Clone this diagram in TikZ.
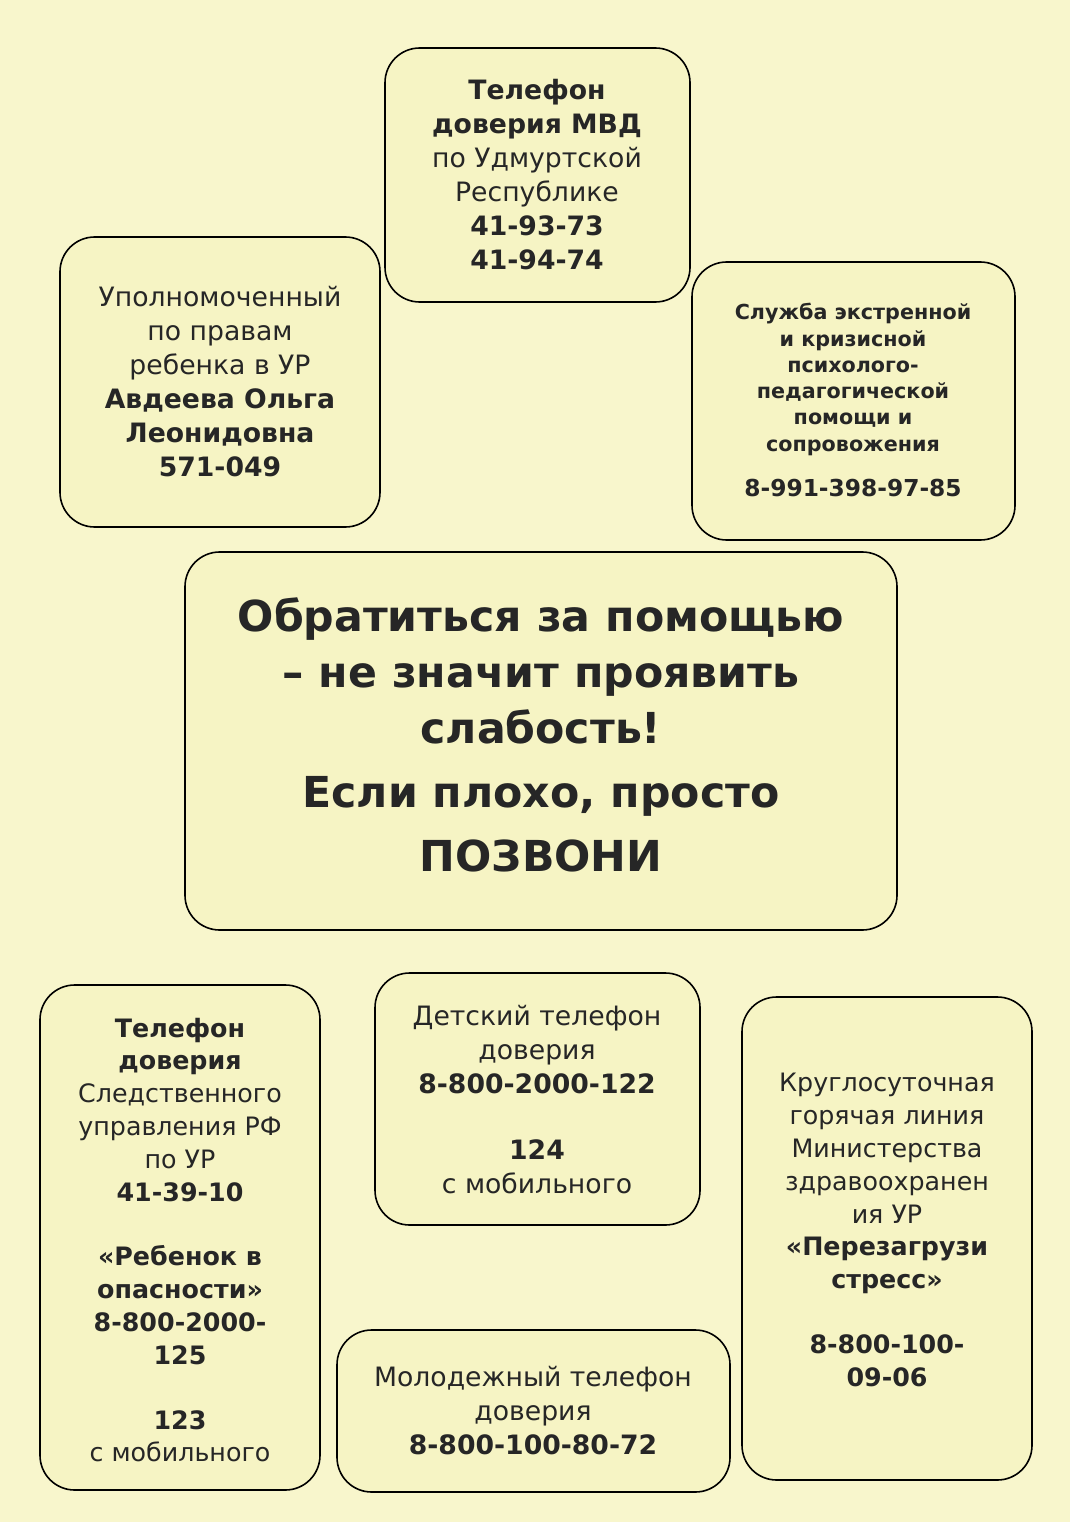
\documentclass[tikz,border=0pt]{standalone}
\usepackage{fontspec}
\setmainfont{DejaVu Sans}
\begin{document}
\begin{tikzpicture}[x=0.75pt,y=-0.75pt,
  box/.style={draw=black,line width=1.2pt,rounded corners=26pt,fill=boxy},
  txt/.style={align=center,font=\fontsize{20}{25.5}\selectfont,inner sep=0pt,text=black!85}]
\definecolor{boxy}{HTML}{F6F4C4}
\definecolor{pagey}{HTML}{F8F6CC}
\useasboundingbox (0,0) rectangle (1080,1530);
\fill[pagey] (0,0) rectangle (1070,1522);
\draw[box] (385,48) rectangle (690,302);
\node[txt] (mvd) at (537,175) {\textbf{Телефон}\\\textbf{доверия МВД}\\по Удмуртской\\Республике\\\textbf{41-93-73}\\\textbf{41-94-74}};
\draw[box] (60,237) rectangle (380,527);
\node[txt] (omb) at (220,382) {Уполномоченный\\по правам\\ребенка в УР\\\textbf{Авдеева Ольга}\\\textbf{Леонидовна}\\\textbf{571-049}};
\draw[box] (692,262) rectangle (1015,540);
\node[txt,font=\bfseries\fontsize{15.5}{19.7}\selectfont] (sl) at (853,400) {Служба экстренной\\и кризисной\\психолого-\\педагогической\\помощи и\\сопровожения\\[14pt]\fontsize{17.5}{20}\selectfont 8-991-398-97-85};
\draw[box] (185,552) rectangle (897,930);
\node[txt,font=\bfseries\fontsize{32}{42}\selectfont] (c) at (541,735) {Обратиться за помощью\\– не значит проявить\\слабость!\\[6pt]Если плохо, просто\\[6pt]ПОЗВОНИ};
\draw[box] (40,985) rectangle (320,1490);
\node[txt,font=\fontsize{19}{24.6}\selectfont] (sk) at (180,1240) {\textbf{Телефон}\\\textbf{доверия}\\Следственного\\управления РФ\\по УР\\\textbf{41-39-10}\\[24pt]\textbf{«Ребенок в}\\\textbf{опасности»}\\\textbf{8-800-2000-}\\\textbf{125}\\[24pt]\textbf{123}\\с мобильного};
\draw[box] (375,973) rectangle (700,1225);
\node[txt] (det) at (537,1100) {Детский телефон\\доверия\\\textbf{8-800-2000-122}\\[24pt]\textbf{124}\\с мобильного};
\draw[box] (742,997) rectangle (1032,1480);
\node[txt,font=\fontsize{19}{24.6}\selectfont] (kr) at (887,1230) {Круглосуточная\\горячая линия\\Министерства\\здравоохранен\\ия УР\\\textbf{«Перезагрузи}\\\textbf{стресс»}\\[24pt]\textbf{8-800-100-}\\\textbf{09-06}};
\draw[box] (337,1330) rectangle (730,1492);
\node[txt] (mol) at (533,1411) {Молодежный телефон\\доверия\\\textbf{8-800-100-80-72}};
\end{tikzpicture}
\end{document}
